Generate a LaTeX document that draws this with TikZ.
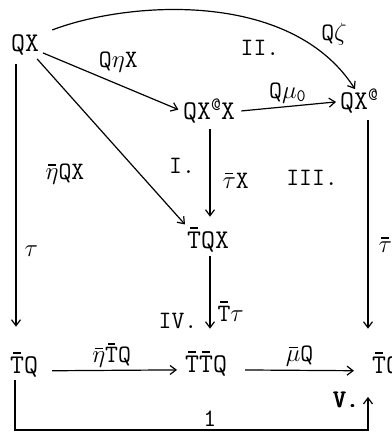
\documentclass[tikz,border=0pt]{standalone}
\usetikzlibrary{arrows.meta, positioning}

% barra corta sobre una letra
\newcommand{\ovl}[1]{\leavevmode\setbox0\hbox{#1}\rlap{\hbox to\wd0{\hss\rule[\dimexpr\ht0+3pt\relax]{0.6\wd0}{1.6pt}\hss}}\box0}
% negrita a mano
\newcommand{\grueso}[1]{\rlap{#1}\hspace{0.5pt}\rlap{#1}\hspace{0.5pt}#1}

\begin{document}
\begin{tikzpicture}[x=1pt, y=-1pt,
        obj/.style={inner sep=0pt, anchor=base west, font=\ttfamily\fontsize{27}{29}\selectfont},
        etiq/.style={inner sep=0pt, font=\ttfamily\fontsize{25}{27}\selectfont},
        flecha/.style={-{Straight Barb[length=6pt, width=9pt]}, line width=1.2pt}]
        \useasboundingbox (0,0) rectangle (391,433);
        \clip (0,0) rectangle (391,433);

        % Objetos
        \node[obj] (qx) at (11,52) {QX};
        \node[obj] (qxax) at (183,120) {QX\textsuperscript{@}X};
        \node[obj] (qxa) at (340,110) {QX\textsuperscript{@}};
        \node[obj] (tqx) at (187,248) {\ovl{T}QX};
        \node[obj] (tq) at (10,373) {\ovl{T}Q};
        \node[obj] (ttq) at (185,372) {\ovl{T}\ovl{T}Q};
        \node[obj] (tqd) at (372,373) {\ovl{T}Q};

        % Regiones
        \node[etiq] (r1) at (182,166) {I.};
        \node[etiq] (r2) at (260,48) {II.};
        \node[etiq] (r3) at (312,178) {III.};
        \node[etiq] (r4) at (178,321) {IV.};
        \node[etiq] (r5) at (346,400) {\grueso{V.}};

        % Flechas desde QX
        \draw[flecha, shorten <=4pt, shorten >=5pt] (qx) -- (qxax.west) node[pos=.55, above=12pt, etiq] {Q$\eta$X};
        \draw[flecha, shorten <=4pt, shorten >=3pt] (qx) -- (tqx.north west);
        \node[etiq] (leta) at (65,174) {\ovl{$\eta$}QX};
        \draw[flecha, shorten <=14pt] (qx.north east) .. controls (125,2) and (290,-12) .. ([xshift=15pt]qxa.north west);
        \node[etiq] (lzeta) at (334,34) {Q$\zeta$};

        % Flechas verticales
        \draw[flecha, shorten <=8pt, shorten >=25pt] ([xshift=5pt]qx.south west) -- ([xshift=5pt]qx.south west |- tq.north) node[pos=.66, right=8pt, etiq] {$\tau$};
        \draw[flecha, shorten <=5pt, shorten >=10pt] ([xshift=27pt]qxax.south west) -- ([xshift=27pt]qxax.south west |- tqx.north) node[pos=.55, right=12pt, etiq] {\ovl{$\tau$}X};
        \draw[flecha, shorten <=4pt, shorten >=22pt] ([xshift=23pt]tqx.south west) -- ([xshift=23pt]tqx.south west |- ttq.north) node[pos=.6, right=7pt, etiq] {\ovl{T}$\tau$};
        \draw[flecha, shorten <=6pt, shorten >=23pt] ([xshift=28pt]qxa.south west) -- ([xshift=28pt]qxa.south west |- tqd.north) node[pos=.55, right=10pt, etiq] {\ovl{$\tau$}};

        % Flechas horizontales
        \draw[flecha, shorten <=6pt, shorten >=4pt] (qxax.east) -- (qxa.west) node[midway, above=3pt, etiq] {Q$\mu$\textsubscript{0}};
        \draw[flecha, shorten <=14pt, shorten >=8pt] (tq.mid east) -- (ttq.mid west) node[midway, above=2pt, etiq] {\ovl{$\eta$}\ovl{T}Q};
        \draw[flecha, shorten <=18pt, shorten >=18pt] (ttq.mid east) -- (tqd.mid west) node[midway, above=3pt, etiq] {\ovl{$\mu$}Q};

        % Lazo inferior
        \coordinate (abajo) at (0,430);
        \draw[flecha, shorten <=3pt, shorten >=20pt] ([xshift=5pt]tq.south west) -- ([xshift=5pt]tq.south west |- abajo) -| node[pos=.276, above=3pt, etiq] {1} ([xshift=-4pt]tqd.south west);
    \end{tikzpicture}
\end{document}
